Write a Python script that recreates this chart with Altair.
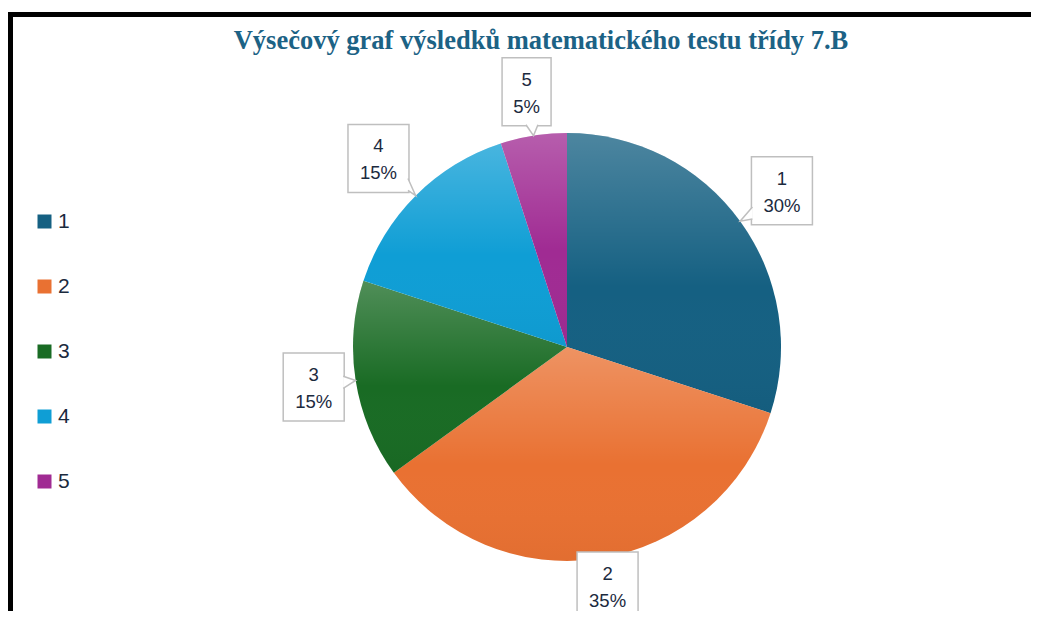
import altair as alt
import pandas as pd

# ---- data ----
grades = ["1", "2", "3", "4", "5"]
shares = [30, 35, 15, 15, 5]
colors = ["#156082", "#E97132", "#196B24", "#0F9ED5", "#A02B93"]
TITLE = "Výsečový graf výsledků matematického testu třídy 7.B"

df = pd.DataFrame({"grade": grades, "share": shares})

# ---- layout constants (view coordinates) ----
W, H = 1023, 603
CX, CY, R = 559, 339, 214
GAP = 221
TXT = "#1B2A3E"
BOX = "#BFBFBF"

base = alt.Chart(df)

color = alt.Color(
    "grade:N",
    scale=alt.Scale(domain=grades, range=colors),
    legend=alt.Legend(
        title=None, orient="none", legendX=26, legendY=203,
        symbolType="square", symbolSize=196, symbolStrokeWidth=0,
        labelFontSize=21, labelFont="Liberation Sans", labelColor=TXT,
        labelOffset=3, rowPadding=43, padding=0,
    ),
)

theta = alt.Theta("share:Q", stack=True)
order = alt.Order("grade:N")

pie = base.mark_arc(outerRadius=R).encode(
    theta=theta, color=color, order=order,
    x=alt.value(CX), y=alt.value(CY),
)

grad = alt.LinearGradient(
    gradient="linear", x1=0, y1=0, x2=0, y2=1,
    stops=[
        alt.GradientStop(offset=0, color="rgba(255,255,255,0.24)"),
        alt.GradientStop(offset=0.55, color="rgba(255,255,255,0)"),
        alt.GradientStop(offset=1, color="rgba(0,0,0,0.03)"),
    ],
)
shade = base.mark_arc(outerRadius=R, fill=grad).encode(
    theta=theta, order=order, x=alt.value(CX), y=alt.value(CY),
)

lab = (
    base.transform_joinaggregate(total="sum(share)")
    .transform_window(cum="sum(share)", sort=[alt.SortField("grade")], frame=[None, 0])
    .transform_calculate(mid="2*PI*(datum.cum - datum.share/2)/datum.total")
    .transform_calculate(pct="round(100*datum.share/datum.total) + '%'")
    .transform_calculate(hw="length(datum.pct) >= 3 ? 30.5 : 24.5")
    .transform_calculate(hh="34")
    .transform_calculate(s="sin(datum.mid)")
    .transform_calculate(c="cos(datum.mid)")
    .transform_calculate(rr=f"{GAP} + datum.hw*abs(datum.s) + datum.hh*abs(datum.c)")
    .transform_calculate(lx=f"{CX} + datum.rr*datum.s")
    .transform_calculate(ly=f"min({CY} - datum.rr*datum.c, {CY} + 239)")
    .transform_calculate(tx=f"{CX} + {R}*datum.s")
    .transform_calculate(ty=f"{CY} - {R}*datum.c")
    .transform_calculate(bx1="datum.lx - datum.hw")
    .transform_calculate(bx2="datum.lx + datum.hw")
    .transform_calculate(by1="datum.ly - datum.hh")
    .transform_calculate(by2="datum.ly + datum.hh")
    .transform_calculate(ddx="datum.tx - datum.lx")
    .transform_calculate(ddy="datum.ty - datum.ly")
    .transform_calculate(horiz="abs(datum.ddx)/datum.hw > abs(datum.ddy)/datum.hh")
    .transform_calculate(inside="abs(datum.ddx) < datum.hw && abs(datum.ddy) < datum.hh")
    .transform_calculate(
        ax="datum.horiz ? datum.lx + (datum.ddx < 0 ? -1 : 1)*(datum.hw - 1) : "
           "clamp(datum.lx + datum.ddx*datum.hh/abs(datum.ddy), datum.lx - datum.hw + 8, datum.lx + datum.hw - 8)"
    )
    .transform_calculate(
        ay="datum.horiz ? clamp(datum.ly + datum.ddy*datum.hw/abs(datum.ddx), datum.ly - datum.hh + 8, datum.ly + datum.hh - 8) : "
           "datum.ly + (datum.ddy < 0 ? -1 : 1)*(datum.hh - 1)"
    )
)

boxes = lab.mark_rect(fill="white", stroke=BOX, strokeWidth=1.5).encode(
    x=alt.X("bx1:Q", scale=None, axis=None),
    x2="bx2:Q",
    y=alt.Y("by1:Q", scale=None, axis=None),
    y2="by2:Q",
)

pointer = (
    lab.transform_calculate(k0="0", k1="1", k2="2")
    .transform_fold(["k0", "k1", "k2"], as_=["key", "kv"])
    .transform_filter("!datum.inside")
    .transform_calculate(ord="datum.key == 'k0' ? 0 : (datum.key == 'k1' ? 1 : 2)")
    .transform_calculate(
        px="datum.ord == 1 ? datum.tx : (datum.horiz ? datum.ax : datum.ax + (datum.ord == 0 ? -6 : 6))"
    )
    .transform_calculate(
        py="datum.ord == 1 ? datum.ty : (datum.horiz ? datum.ay + (datum.ord == 0 ? -6 : 6) : datum.ay)"
    )
    .mark_line(stroke=BOX, strokeWidth=1.5, fill="white", strokeJoin="miter")
    .encode(
        x=alt.X("px:Q", scale=None, axis=None),
        y=alt.Y("py:Q", scale=None, axis=None),
        detail="grade:N",
        order="ord:Q",
    )
)

t1 = lab.mark_text(font="Liberation Sans", fontSize=18.5, color=TXT, baseline="middle", dy=-12).encode(
    x=alt.X("lx:Q", scale=None, axis=None),
    y=alt.Y("ly:Q", scale=None, axis=None),
    text="grade:N",
)
t2 = lab.mark_text(font="Liberation Sans", fontSize=18.5, color=TXT, baseline="middle", dy=15).encode(
    x=alt.X("lx:Q", scale=None, axis=None),
    y=alt.Y("ly:Q", scale=None, axis=None),
    text="pct:N",
)

title_df = pd.DataFrame({"t": [TITLE]})
title = alt.Chart(title_df).mark_text(
    font="Liberation Serif", fontSize=26.5, fontWeight="bold", color="#1C6285",
    align="center", baseline="alphabetic",
).encode(x=alt.value(533), y=alt.value(41), text="t:N")

frame_df = pd.DataFrame({"f": [0]})
frame = alt.Chart(frame_df).mark_rect(fillOpacity=0, stroke="black", strokeWidth=5).encode(
    x=alt.value(2.5), x2=alt.value(1300), y=alt.value(6.5), y2=alt.value(900)
)

chart = (
    alt.layer(pie, shade, boxes, pointer, t1, t2, title, frame)
    .properties(width=W, height=H, autosize="none", padding=0, background="white")
    .configure_view(strokeWidth=0)
)

chart.save("out.html", embed_options={"renderer": "svg", "actions": False})
